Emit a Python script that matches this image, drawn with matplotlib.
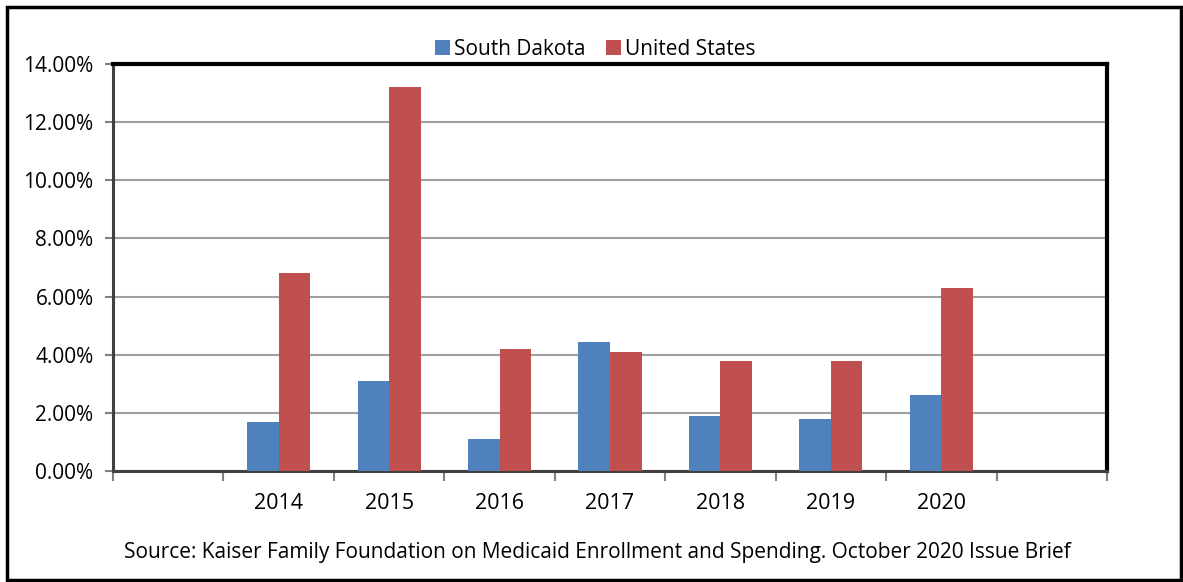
import numpy as np
import matplotlib.pyplot as plt
from matplotlib.patches import Rectangle
from matplotlib.ticker import FuncFormatter, MultipleLocator

plt.rcParams['font.family'] = ['Open Sans', 'DejaVu Sans']

years = ['2014', '2015', '2016', '2017', '2018', '2019', '2020']
south_dakota = [1.7, 3.1, 1.1, 4.45, 1.9, 1.8, 2.6]
united_states = [6.8, 13.2, 4.2, 4.1, 3.8, 3.8, 6.3]

# the chart has one empty category slot on each side of the years
x = np.arange(1, len(years) + 1)
w = 1 / 3.5

fig = plt.figure(figsize=(11.83, 5.82), dpi=100)
ax = fig.add_axes([0.0955, 0.1907, 0.8403, 0.6993])

ax.bar(x - w / 2, south_dakota, w, color='#4F81BD', label='South Dakota', zorder=3)
ax.bar(x + w / 2, united_states, w, color='#C0504D', label='United States', zorder=3)

ax.set_xlim(-0.5, len(years) + 1.5)
ax.set_ylim(0, 14)
ax.yaxis.set_major_locator(MultipleLocator(2))
ax.yaxis.set_major_formatter(FuncFormatter(lambda v, p: f'{v:.2f}%'))
ax.grid(axis='y', color='#A0A0A0', linewidth=1.5, zorder=0)

ax.set_xticks(x)
ax.set_xticklabels(years)
ax.set_xticks(np.arange(-0.5, len(years) + 2), minor=True)
ax.tick_params(axis='x', which='major', length=0, pad=16, labelsize=15.5)
ax.tick_params(axis='x', which='minor', length=7, width=1.5, color='#808080')
ax.tick_params(axis='y', length=6, width=1.5, color='#808080', labelsize=15, pad=8)

for s in ['top', 'right']:
    ax.spines[s].set_linewidth(3)
    ax.spines[s].set_color('black')
for s in ['left', 'bottom']:
    ax.spines[s].set_linewidth(2.2)
    ax.spines[s].set_color('#404040')

ax.legend(loc='lower center', bbox_to_anchor=(0.485, 0.99), ncol=2, frameon=False,
          fontsize=15, handlelength=0.7, handleheight=0.7, handletextpad=0.2,
          columnspacing=1.0, borderaxespad=0.0)

fig.text(0.505, 0.051, 'Source: Kaiser Family Foundation on Medicaid Enrollment and Spending. October 2020 Issue Brief',
         ha='center', va='center', fontsize=15)

fig.patches.append(Rectangle((0.006, 0.004), 0.992, 0.984, transform=fig.transFigure,
                             fill=False, edgecolor='black', linewidth=2.5))

fig.savefig('out.png', dpi=100)
